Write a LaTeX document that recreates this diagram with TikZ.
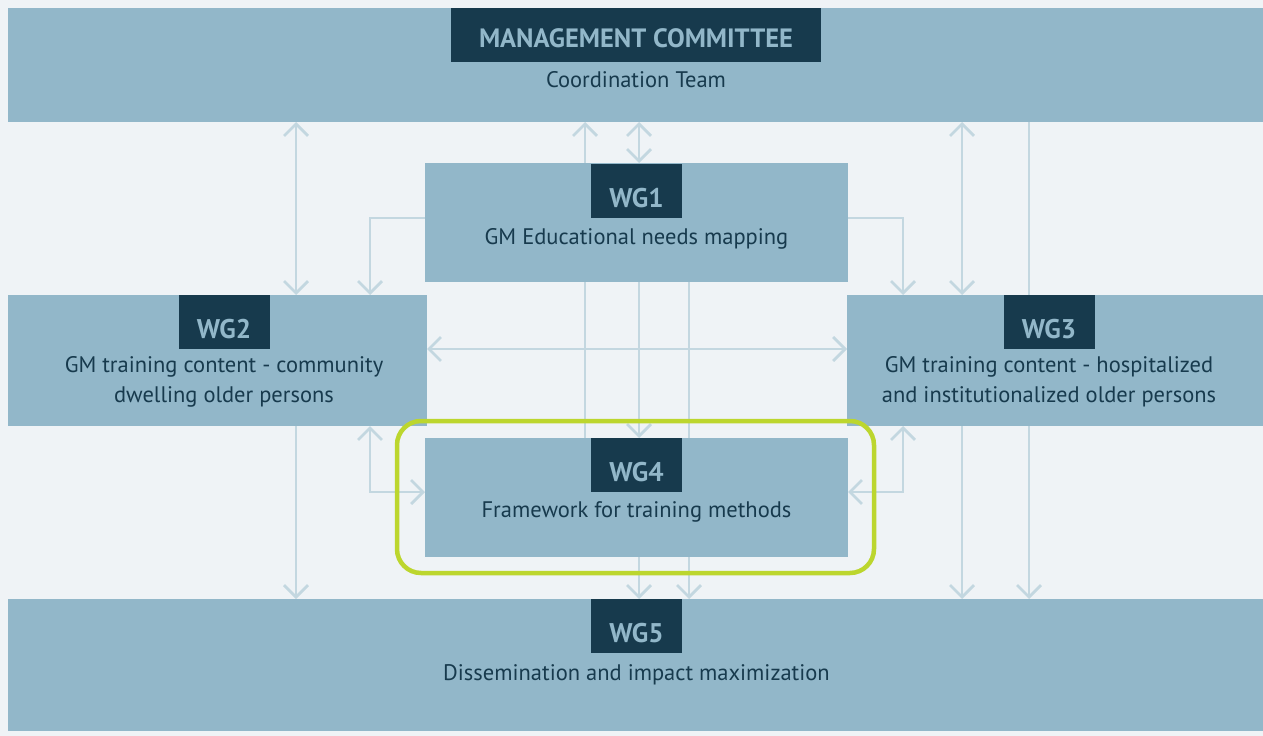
\documentclass[tikz,border=0pt]{standalone}
\usepackage{fontspec}
\setmainfont{PT Sans}
\usetikzlibrary{arrows.meta,positioning}
\definecolor{bgcol}{HTML}{EFF3F6}
\definecolor{boxcol}{HTML}{92B7C9}
\definecolor{darkcol}{HTML}{173A4D}
\definecolor{linecol}{HTML}{C3D7E0}
\definecolor{greencol}{HTML}{BCD62E}
\pgfdeclarelayer{bg}
\pgfdeclarelayer{conn}
\pgfsetlayers{bg,conn,main}
\tikzset{box/.style={rectangle, fill=boxcol, inner sep=0pt, outer sep=0pt},
  tag/.style={rectangle, fill=darkcol, text=boxcol, inner sep=0pt, outer sep=0pt, text height=43bp, text depth=11bp, anchor=north, font=\fontsize{27bp}{30bp}\bfseries},
  body/.style={text=darkcol, inner sep=0pt, align=center, font=\fontsize{22.5bp}{30bp}\selectfont},
  conn/.style={draw=linecol, line width=2.8bp, arrows={-}, >={Straight Barb[length=12bp,width=24bp]}},
  highlight/.style={draw=greencol, line width=4.5bp, rounded corners=24bp}}

\begin{document}
\begin{tikzpicture}[x=1bp, y=-1bp]
    \useasboundingbox (0,0) rectangle (1263,736);
    \begin{pgfonlayer}{bg}
        \fill[bgcol] (0,0) rectangle (1263,736);
    \end{pgfonlayer}
    % working groups
    \node[box, minimum width=1255bp, minimum height=114bp] (mc) at (635.5,65) {};
    \node[box, minimum width=423bp, minimum height=119bp] (wg1) at (636.5,222.5) {};
    \node[box, minimum width=419bp, minimum height=131bp] (wg2) at (217.5,360.5) {};
    \node[box, minimum width=416bp, minimum height=131bp] (wg3) at (1055,360.5) {};
    \node[box, minimum width=423bp, minimum height=119bp] (wg4) at (636.5,497.5) {};
    \node[box, minimum width=1255bp, minimum height=132bp] (wg5) at (635.5,665) {};
    % labels
    \node[tag, minimum width=370bp, text height=39bp, text depth=15bp, font=\fontsize{26.5bp}{30bp}\bfseries] (mcTag) at (636,8) {MANAGEMENT COMMITTEE};
    \node[tag, minimum width=91bp] (wg1Tag) at (636.5,164) {WG1};
    \node[tag, minimum width=91bp] (wg2Tag) at (224,295) {WG2};
    \node[tag, minimum width=91bp] (wg3Tag) at (1049,295) {WG3};
    \node[tag, minimum width=91bp] (wg4Tag) at (636.5,438) {WG4};
    \node[tag, minimum width=91bp] (wg5Tag) at (636.5,599) {WG5};
    \node[body, anchor=base] (mcText) at ([yshift=-25bp]mcTag.south) {Coordination Team};
    \node[body, anchor=base] (wg1Text) at ([yshift=-26bp]wg1Tag.south) {GM Educational needs mapping};
    \node[body, anchor=north] (wg2Text) at ([yshift=-7bp]wg2Tag.south) {GM training content - community\\dwelling older persons};
    \node[body, anchor=north] (wg3Text) at ([yshift=-7bp]wg3Tag.south) {GM training content - hospitalized\\and institutionalized older persons};
    \node[body, anchor=base] (wg4Text) at ([yshift=-25bp]wg4Tag.south) {Framework for training methods};
    \node[body, anchor=base] (wg5Text) at ([yshift=-27bp]wg5Tag.south) {Dissemination and impact maximization};
    \draw[highlight] ([shift={(-28bp,17bp)}]wg4.north west) rectangle ([shift={(26bp,-16bp)}]wg4.south east);
    % connectors
    \begin{pgfonlayer}{conn}
        \draw[conn,<->] (296,0 |- mc.south) -- (296,0 |- wg2.north);
        \draw[conn,->] (296,0 |- wg2.south) -- (296,0 |- wg5.north);
        \draw[conn,->] (wg1.west |- wg1Tag.south) -| (370,0 |- wg2.north);
        \draw[conn,<->] (370,0 |- wg2.south) |- (wg4.west |- wg4Tag.south);
        \draw[conn,->] (585,0 |- wg4.north) -- (585,0 |- mc.south);
        \draw[conn,<->] (639,0 |- wg1.north) -- (639,0 |- mc.south);
        \draw[conn,->] (639,0 |- wg1.south) -- (639,0 |- wg4.north);
        \draw[conn,->] (639,0 |- wg4.south) -- (639,0 |- wg5.north);
        \draw[conn,->] (689,0 |- wg1.south) -- (689,0 |- wg5.north);
        \draw[conn,<->] (wg2.east |- wg2Tag.south) -- (wg3.west |- wg2Tag.south);
        \draw[conn,->] (wg1.east |- wg1Tag.south) -| (903,0 |- wg3.north);
        \draw[conn,<->] (903,0 |- wg3.south) |- (wg4.east |- wg4Tag.south);
        \draw[conn,<->] (962,0 |- mc.south) -- (962,0 |- wg3.north);
        \draw[conn,->] (962,0 |- wg3.south) -- (962,0 |- wg5.north);
        \draw[conn,->] (1029,0 |- mc.south) -- (1029,0 |- wg5.north);
    \end{pgfonlayer}
\end{tikzpicture}
\end{document}
